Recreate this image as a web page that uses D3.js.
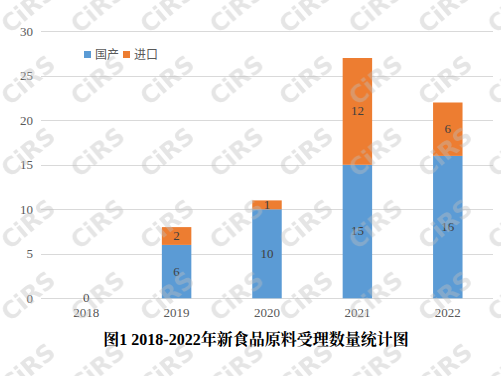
<!DOCTYPE html>
<html>
<head>
<meta charset="utf-8">
<script src="https://cdn.jsdelivr.net/npm/d3@7"></script>
<style>
  body { margin: 0; background: #fff; }
  svg { display: block; }
</style>
</head>
<body>
<div class="chart"></div>
<script>
const WIDTH = 501;
const HEIGHT = 376;

var years = ['2018', '2019', '2020', '2021', '2022'];
var domestic = [0, 6, 10, 15, 16];
var imported = [0, 2, 1, 12, 6];
var seriesNames = ['国产', '进口'];
var yTicks = [0, 5, 10, 15, 20, 25, 30];
var titleText = '图1 2018-2022年新食品原料受理数量统计图';

var colors = ['#5B9BD5', '#ED7D31'];

var rows = years.map(function (y, i) {
    return {year: y, domestic: domestic[i], imported: imported[i]};
});

var xScale = d3.scaleBand().domain(years).range([41, 493])
    .paddingInner(0.674).paddingOuter(0.337);
var yScale = d3.scaleLinear().domain([0, 30]).range([298.3, 31.3]);

var svg = d3.select('.chart').append('svg')
    .attr('width', WIDTH)
    .attr('height', HEIGHT);

// watermark tile
var tileW = 69.5, tileH = 72;
var pattern = svg.append('defs').append('pattern')
    .attr('id', 'wm')
    .attr('patternUnits', 'userSpaceOnUse')
    .attr('x', 28 - tileW / 2).attr('y', 8 - tileH / 2)
    .attr('width', tileW).attr('height', tileH);
pattern.append('text')
    .attr('transform', 'translate(' + tileW / 2 + ',' + tileH / 2 + ') rotate(-40)')
    .attr('text-anchor', 'middle').attr('dy', '0.35em')
    .attr('font-family', '"DejaVu Sans", sans-serif')
    .attr('font-weight', 'bold').attr('font-size', 24)
    .attr('fill', '#bdbdbd').attr('fill-opacity', 0.4)
    .text('CiRS');

// grid lines
svg.append('g').selectAll('line').data(yTicks).enter().append('line')
    .attr('x1', 41).attr('x2', 493)
    .attr('y1', function (d) { return Math.round(yScale(d)) + 0.5; })
    .attr('y2', function (d) { return Math.round(yScale(d)) + 0.5; })
    .attr('stroke', '#d9d9d9').attr('stroke-width', 1);

// y axis labels
var yAxis = d3.axisLeft(yScale).tickValues(yTicks).tickSize(0).tickPadding(8);
var yAxisG = svg.append('g').attr('transform', 'translate(41,0)').call(yAxis);
yAxisG.select('.domain').remove();
yAxisG.selectAll('text')
    .attr('font-family', '"Liberation Serif", "Times New Roman", serif')
    .attr('font-size', 13).attr('fill', '#595959');

// x axis labels
var xAxis = d3.axisBottom(xScale).tickSize(0).tickPadding(10);
var xAxisG = svg.append('g').attr('transform', 'translate(0,298)').call(xAxis);
xAxisG.select('.domain').remove();
xAxisG.selectAll('text')
    .attr('font-family', '"Liberation Serif", "Times New Roman", serif')
    .attr('font-size', 13).attr('fill', '#595959');

// stacked bars
var stack = d3.stack().keys(['domestic', 'imported']);
var layers = stack(rows);

var layerG = svg.append('g').selectAll('g').data(layers).enter().append('g')
    .attr('fill', function (d, i) { return colors[i]; });

layerG.selectAll('rect').data(function (d) { return d; }).enter().append('rect')
    .attr('x', function (d) { return xScale(d.data.year); })
    .attr('width', xScale.bandwidth())
    .attr('y', function (d) { return yScale(d[1]); })
    .attr('height', function (d) { return yScale(d[0]) - yScale(d[1]); });

// value labels
svg.append('g').selectAll('g').data(layers).enter().append('g')
    .selectAll('text').data(function (d, i) {
        return d.filter(function (s) { return i === 0 || s[1] - s[0] > 0; });
    }).enter().append('text')
    .attr('x', function (d) { return xScale(d.data.year) + xScale.bandwidth() / 2; })
    .attr('y', function (d) { return (yScale(d[0]) + yScale(d[1])) / 2; })
    .attr('dy', '0.3em')
    .attr('text-anchor', 'middle')
    .attr('font-family', '"Liberation Serif", "Times New Roman", serif')
    .attr('font-size', 13).attr('fill', '#404040')
    .text(function (d) { return d[1] - d[0]; });

// legend
var legend = svg.append('g').attr('transform', 'translate(84,51)');
var legendX = [0, 39];
seriesNames.forEach(function (name, i) {
    var item = legend.append('g').attr('transform', 'translate(' + legendX[i] + ',0)');
    item.append('rect').attr('width', 7).attr('height', 7).attr('fill', colors[i]);
    item.append('text').attr('x', 11).attr('y', 4).attr('dy', '0.35em')
        .attr('font-family', '"Noto Sans CJK SC", sans-serif')
        .attr('font-size', 12).attr('fill', '#595959')
        .text(name);
});

// title
svg.append('text')
    .attr('x', 256).attr('y', 345)
    .attr('text-anchor', 'middle')
    .attr('font-family', '"Liberation Serif", "Noto Serif CJK SC", "Noto Sans CJK SC", serif')
    .attr('font-weight', 'bold')
    .attr('font-size', 16).attr('fill', '#000')
    .text(titleText);

// watermark overlay
svg.append('rect')
    .attr('width', WIDTH).attr('height', HEIGHT)
    .attr('fill', 'url(#wm)').attr('pointer-events', 'none');
</script>
</body>
</html>
